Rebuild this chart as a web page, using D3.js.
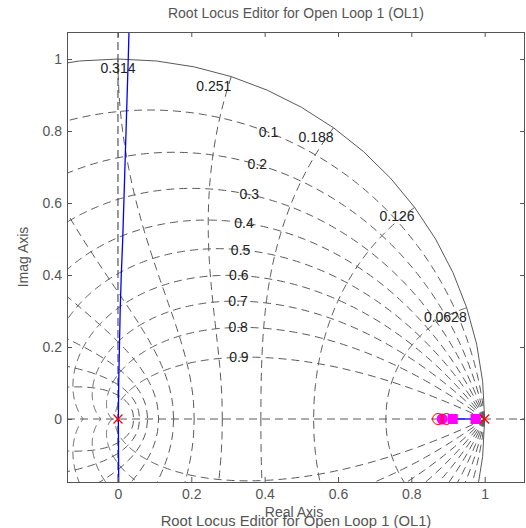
<!DOCTYPE html>
<html>
<head>
<meta charset="utf-8">
<script src="https://cdn.jsdelivr.net/npm/d3@7/dist/d3.min.js"></script>
<style>
  body { margin: 0; background: #fff; }
  text { font-family: "Liberation Sans", Arial, sans-serif; }
</style>
</head>
<body>
<div id="chart"></div>
<script>
// ---- data ----
var xTicks = [0, 0.2, 0.4, 0.6, 0.8, 1];
var yTicks = [0, 0.2, 0.4, 0.6, 0.8, 1];
var zetaValues = [0.1, 0.2, 0.3, 0.4, 0.5, 0.6, 0.7, 0.8, 0.9];
var wnSteps = [1, 2, 3, 4, 5, 6, 7, 8, 9, 10];          // wn*T = k*pi/10
var wnLabels = ["0.0628", "0.126", "0.188", "0.251", "0.314"]; // labels for k = 1..5
var locusRe = [0.002, 0.001, 0.002, 0.004, 0.006, 0.009, 0.013, 0.016, 0.019, 0.022, 0.025, 0.028, 0.030];
var locusIm = [-0.175, 0, 0.1, 0.2, 0.3, 0.4, 0.5, 0.6, 0.7, 0.8, 0.9, 1.0, 1.075];
var realSegment = [0.913, 0.99];
var olPoles = [0, 1.0];
var olZeros = [0.873, 0.896];
var clPolesSquare = [0.913, 0.975];
var clPolesCircle = [0.884];

var W = 526, H = 528;
var margin = {top: 32, right: 1, bottom: 46, left: 67};

var x = d3.scaleLinear().domain([-0.139, 1.11]).range([margin.left, W - margin.right]);
var y = d3.scaleLinear().domain([-0.175, 1.075]).range([H - margin.bottom, margin.top]);

var svg = d3.select("#chart").append("svg")
    .attr("width", W)
    .attr("height", H);

svg.append("defs").append("clipPath").attr("id", "plotclip")
    .append("rect")
    .attr("x", x.range()[0]).attr("y", y.range()[1])
    .attr("width", x.range()[1] - x.range()[0])
    .attr("height", y.range()[0] - y.range()[1]);

var plot = svg.append("g").attr("clip-path", "url(#plotclip)");

// z-plane point for damping zeta and normalised frequency theta = wn*T
function zpt(zeta, theta) {
    var r = Math.exp(-zeta * theta);
    var a = theta * Math.sqrt(1 - zeta * zeta);
    return [r * Math.cos(a), r * Math.sin(a)];
}

var line = d3.line().x(function(d){ return x(d[0]); }).y(function(d){ return y(d[1]); });
var gridColor = "#595959";

function drawCurve(pts, dashed) {
    [1, -1].forEach(function(s) {
        plot.append("path")
            .attr("d", line(pts.map(function(p){ return [p[0], s * p[1]]; })))
            .attr("fill", "none")
            .attr("stroke", gridColor)
            .attr("stroke-width", 1)
            .attr("stroke-dasharray", dashed ? "8,5" : null);
    });
}

// axis lines through the origin
plot.append("line")
    .attr("x1", x.range()[0]).attr("x2", x.range()[1])
    .attr("y1", y(0)).attr("y2", y(0))
    .attr("stroke", gridColor).attr("stroke-dasharray", "8,5");
plot.append("line")
    .attr("x1", x(0)).attr("x2", x(0))
    .attr("y1", y.range()[0]).attr("y2", y.range()[1])
    .attr("stroke", "#333").attr("stroke-dasharray", "8,4");

// damping ratio curves
zetaValues.forEach(function(z) {
    var tmax = Math.PI / Math.sqrt(1 - z * z);
    var pts = d3.range(0, 301).map(function(i){ return zpt(z, tmax * i / 300); });
    drawCurve(pts, true);
});

// natural frequency curves
wnSteps.forEach(function(k) {
    var th = k * Math.PI / 10;
    var pts = d3.range(0, 101).map(function(i){ return zpt(i / 100, th); });
    drawCurve(pts, true);
});

// unit circle
drawCurve(d3.range(0, 31).map(function(i){ return zpt(0, Math.PI * i / 30); }), false);

// grid labels
var labelColor = "#222";
zetaValues.forEach(function(z) {
    var p = zpt(z, 1.1);
    plot.append("text")
        .attr("x", x(p[0])).attr("y", y(p[1]))
        .attr("dy", "0.35em")
        .attr("text-anchor", "middle")
        .attr("font-size", 14)
        .attr("fill", labelColor)
        .text(z);
});
wnLabels.forEach(function(lab, i) {
    var p = zpt(0, (i + 1) * Math.PI / 10);
    plot.append("text")
        .attr("x", x(p[0])).attr("y", y(p[1]) + 14)
        .attr("text-anchor", Math.abs(p[0]) < 0.01 ? "middle" : "end")
        .attr("font-size", 14)
        .attr("fill", labelColor)
        .text(lab);
});

// root locus
var locus = locusRe.map(function(r, i){ return [r, locusIm[i]]; });
plot.append("path")
    .attr("d", line(locus))
    .attr("fill", "none").attr("stroke", "#0000ff").attr("stroke-width", 1.3);
plot.append("path")
    .attr("d", line(realSegment.map(function(r){ return [r, 0]; })))
    .attr("fill", "none").attr("stroke", "#0000ff").attr("stroke-width", 1.3);

// zeros (open circles) and closed-loop markers
plot.selectAll(".clc").data(clPolesCircle).enter().append("circle")
    .attr("cx", function(d){ return x(d); }).attr("cy", y(0)).attr("r", 5.5)
    .attr("fill", "#ff00ff");
plot.selectAll(".zero").data(olZeros).enter().append("circle")
    .attr("cx", function(d){ return x(d); }).attr("cy", y(0)).attr("r", 5.5)
    .attr("fill", "none").attr("stroke", "#ff0000").attr("stroke-width", 1);
plot.selectAll(".cls").data(clPolesSquare).enter().append("rect")
    .attr("x", function(d){ return x(d) - 5; }).attr("y", y(0) - 5)
    .attr("width", 10).attr("height", 10)
    .attr("fill", "#ff00ff");

// open-loop poles
var xs = 4.5;
olPoles.forEach(function(p) {
    var cx = x(p), cy = y(0);
    plot.append("path")
        .attr("d", "M" + (cx - xs) + "," + (cy - xs) + "L" + (cx + xs) + "," + (cy + xs) +
                   "M" + (cx - xs) + "," + (cy + xs) + "L" + (cx + xs) + "," + (cy - xs))
        .attr("stroke", "#ff0000").attr("stroke-width", 1.3).attr("fill", "none");
});

// axes (ticks inward on all four sides)
var axisColor = "#555";
function styleAxis(g) {
    g.select(".domain").remove();
    g.selectAll("line").attr("stroke", axisColor);
    g.selectAll("text").attr("fill", axisColor).attr("font-size", 14)
        .attr("font-family", "'Liberation Sans', Arial, sans-serif");
}
svg.append("g").attr("transform", "translate(0," + y.range()[0] + ")")
    .call(d3.axisBottom(x).tickValues(xTicks).tickSize(-5).tickPadding(7).tickFormat(d3.format("")))
    .call(styleAxis);
svg.append("g").attr("transform", "translate(0," + y.range()[1] + ")")
    .call(d3.axisTop(x).tickValues(xTicks).tickSize(-5).tickFormat(""))
    .call(styleAxis);
svg.append("g").attr("transform", "translate(" + x.range()[0] + ",0)")
    .call(d3.axisLeft(y).tickValues(yTicks).tickSize(-5).tickPadding(5).tickFormat(d3.format("")))
    .call(styleAxis);
svg.append("g").attr("transform", "translate(" + x.range()[1] + ",0)")
    .call(d3.axisRight(y).tickValues(yTicks).tickSize(-5).tickFormat(""))
    .call(styleAxis);

svg.append("rect")
    .attr("x", x.range()[0] + 0.5).attr("y", y.range()[1] + 0.5)
    .attr("width", x.range()[1] - x.range()[0] - 1)
    .attr("height", y.range()[0] - y.range()[1])
    .attr("fill", "none").attr("stroke", axisColor).attr("stroke-width", 1);

// titles and axis labels
var cx = (x.range()[0] + x.range()[1]) / 2;
svg.append("text").attr("x", cx).attr("y", 18).attr("text-anchor", "middle")
    .attr("font-size", 14).attr("fill", axisColor)
    .text("Root Locus Editor for Open Loop 1 (OL1)");
svg.append("text").attr("x", cx - 2).attr("y", 517).attr("text-anchor", "middle")
    .attr("font-size", 14).attr("fill", axisColor)
    .text("Real Axis");
svg.append("text").attr("x", cx).attr("y", 526).attr("text-anchor", "middle")
    .attr("font-size", 14.8).attr("fill", axisColor)
    .text("Root Locus Editor for Open Loop 1 (OL1)");
svg.append("text")
    .attr("transform", "translate(28," + ((y.range()[0] + y.range()[1]) / 2) + ") rotate(-90)")
    .attr("text-anchor", "middle")
    .attr("font-size", 14).attr("fill", axisColor)
    .text("Imag Axis");
</script>
</body>
</html>
